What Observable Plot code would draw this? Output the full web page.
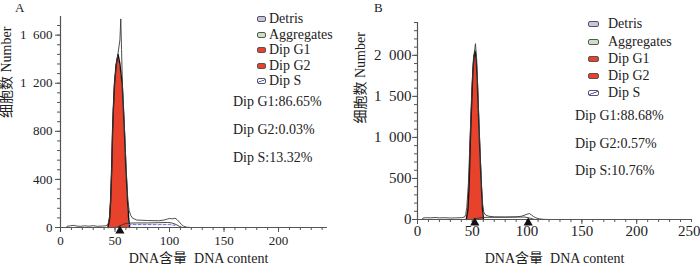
<!DOCTYPE html>
<html><head><meta charset="utf-8">
<script src="https://cdn.jsdelivr.net/npm/d3@7"></script>
<script src="https://cdn.jsdelivr.net/npm/@observablehq/plot@0.6"></script>
<style>
html,body{margin:0;padding:0;background:#fff;}
#wrap{position:relative;width:700px;height:264px;overflow:hidden;font-family:"Liberation Serif","Noto Sans CJK SC",serif;color:#222;}
#charts{display:flex;}
.lab{position:absolute;font-size:14px;line-height:16px;white-space:nowrap;}
.sw{position:absolute;border:1px solid #555;border-radius:2px;box-sizing:border-box;}
.panel{position:absolute;font-size:13px;line-height:14px;}
</style></head>
<body><div id="wrap"><div id="charts"></div></div>
<script>
// ---------- data ----------
const panelLabels = ["A", "B"];
const legendNames = ["Detris", "Aggregates", "Dip G1", "Dip G2", "Dip S"];
const legendFills = ["#cbc3e3", "#c9e3c2", "#e8412c", "#e8412c", "#ffffff"];
const statsA = ["Dip G1:86.65%", "Dip G2:0.03%", "Dip S:13.32%"];
const statsB = ["Dip G1:88.68%", "Dip G2:0.57%", "Dip S:10.76%"];
const xLabel = "DNA含量  DNA content";
const yLabel = "细胞数 Number";

// Panel A: raw histogram (thin line)
const aRawX = [5,6,9,12,15,18,22,26,30,34,38,41,43,44,45,46,47,47.7,48.5,49.5,51,52.8,54.5,55.3,56,56.8,57.8,58.9,60.3,61.8,63,64.5,66,70,80,90,95,98,100,103,105,107,109,111,113,116,120,244];
const aRawY = [0,10,14,18,12,10,14,11,15,10,12,14,20,40,90,224,500,780,990,1190,1340,1450,1560,1735,1480,1190,990,780,480,224,140,100,78,62,58,56,62,70,75,72,78,65,45,25,10,2,0,0];
// Panel A: G1 fit (red)
const aG1X = [43.5,45,46,47,47.7,48.5,49.5,51,52.8,54.5,56.6,57.7,58.7,60,61.5,62.5,63.5];
const aG1Y = [0,70,224,500,780,990,1190,1350,1440,1360,1190,990,780,480,224,80,0];
// Panel A: S-phase fit (solid) and S hatch top (dashed)
const aSX = [51,54,57,61,70,80,90,98,102,106,109,112];
const aSY = [0,12,25,36,38,38,40,42,38,25,10,0];
const aSdX = [62,70,80,90,100,105];
const aSdY = [24,24,24,24,24,18];
const aMarks = [54.5];

// Panel B
const bRawX = [4.3,5,8,12,16,20,25,30,35,40,43,44,45,46.5,48,49.5,51,52.9,54,55,56.3,57.5,58.5,59.5,60.5,62,65,70,80,90,95,98,100,102,104,106,108,111,115,120,250];
const bRawY = [0,18,22,20,24,20,22,18,20,22,30,60,150,450,1000,1550,1950,2142,1950,1600,1100,700,380,180,90,55,40,32,30,32,40,55,65,72,55,35,20,8,2,0,0];
const bG1X = [44.5,46,47,48.4,49.5,50.5,51.5,52.6,53.5,54.5,55.3,56.3,57.3,58.3,59.2,60.2];
const bG1Y = [0,120,400,1041,1450,1800,1980,2050,1960,1700,1400,1041,700,400,150,0];
const bSX = [50,55,60,70,80,90,98,103,107];
const bSY = [0,15,26,27,28,30,30,15,0];
const bMarks = [52.3, 101];

// ticks
const aXMajor = [0,50,100,150,200];
const aYMajor = [0,400,800,1200,1600];
const bXMajor = [0,50,100,150,200,250];
const bYMajor = [0,500,1000,1500,2000];

// ---------- helpers ----------
const zip = (xs, ys) => xs.map((x, i) => ({x, y: ys[i]}));
const fmt = d => d >= 1000 ? Math.floor(d/1000) + "\u2002" + String(d % 1000).padStart(3, "0") : String(d);
const AX = "#555";
const RED = "#e8412c";
const FONT = "Liberation Serif, Noto Sans CJK SC, serif";

function panel(o) {
  const inner = o.xMajor.filter(d => d < o.xd[1]);
  const edge = o.xMajor.filter(d => d >= o.xd[1]);
  return Plot.plot({
    width: 350, height: 264,
    marginLeft: o.ml, marginRight: o.mr, marginTop: o.mt, marginBottom: o.mb,
    x: {domain: o.xd},
    y: {domain: o.yd},
    style: {fontFamily: FONT, fontSize: o.tickFont + "px", color: "#222", background: "white", overflow: "visible"},
    marks: [
      Plot.areaY(o.g1, {x: "x", y: "y", fill: RED}),
      Plot.lineY(o.g1, {x: "x", y: "y", stroke: "#111", strokeWidth: 1.4}),
      o.sd ? Plot.lineY(o.sd, {x: "x", y: "y", stroke: "#6a6ad6", strokeWidth: 1, strokeDasharray: "3,2"}) : null,
      Plot.lineY(o.s, {x: "x", y: "y", stroke: "#333", strokeWidth: 0.9}),
      Plot.lineY(o.raw, {x: "x", y: "y", stroke: "#3a3a3a", strokeWidth: 0.9}),
      Plot.ruleY([0], {stroke: AX, strokeWidth: 1.2}),
      Plot.ruleX([0], {stroke: AX, strokeWidth: 1.2}),
      Plot.axisX(d3.range(o.xd[0], o.xd[1] + 0.1, 10), {tickSize: 3, tickFormat: () => "", stroke: AX, label: null}),
      Plot.axisX(inner, {tickSize: 5, tickPadding: o.xPad, stroke: AX, label: null, fontSize: o.tickFont}),
      edge.length ? Plot.axisX(edge, {tickSize: 5, tickPadding: o.xPad, stroke: AX, label: null, fontSize: o.tickFont, textAnchor: "end", dx: 9}) : null,
      Plot.axisY(d3.range(0, o.yd[1] + 1, o.yMinor), {tickSize: 3, tickFormat: () => "", stroke: AX, label: null}),
      Plot.axisY(o.yMajor, {tickSize: 5, tickPadding: o.yPad, stroke: AX, label: null, tickFormat: fmt, fontSize: o.tickFont}),
      Plot.text([xLabel], {frameAnchor: "bottom", dy: o.xLabOff, dx: o.xLabDx, lineAnchor: "bottom", fontSize: 14, fill: "#222"}),
      Plot.text([yLabel], {frameAnchor: "left", rotate: -90, dx: -o.yLabOff, dy: o.yLabDy, lineAnchor: "top", fontSize: 14, fill: "#222"}),
      Plot.dot(o.marksAt, {x: d => d, y: () => 0, symbol: "triangle", r: 3.4, fill: "#111", dy: 3.3})
    ]
  });
}

const chartA = panel({
  ml: 60, mr: 24, mt: 16, mb: 37, xd: [0, 244], yd: [0, 1755], tickFont: 13,
  raw: zip(aRawX, aRawY), g1: zip(aG1X, aG1Y), s: zip(aSX, aSY), sd: zip(aSdX, aSdY),
  xMajor: aXMajor, yMajor: aYMajor, yMinor: 80, xPad: 3, yPad: 3,
  xLabOff: 35, xLabDx: 5, yLabOff: 59, yLabDy: -4, marksAt: aMarks
});
const chartB = panel({
  ml: 67, mr: 9, mt: 22, mb: 45, xd: [0, 250], yd: [0, 2400], tickFont: 15,
  raw: zip(bRawX, bRawY), g1: zip(bG1X, bG1Y), s: zip(bSX, bSY), sd: null,
  xMajor: bXMajor, yMajor: bYMajor, yMinor: 100, xPad: 1, yPad: 1,
  xLabOff: 43, xLabDx: 0, yLabOff: 62, yLabDy: 2.5, marksAt: bMarks
});
const charts = document.getElementById("charts");
charts.append(chartA, chartB);

// ---------- legends / annotations (HTML overlay) ----------
const wrap = document.getElementById("wrap");
function addText(txt, left, cy, cls) {
  const d = document.createElement("div");
  d.className = cls; d.textContent = txt;
  d.style.left = left + "px"; d.style.top = (cy - 8) + "px";
  wrap.append(d);
}
function addLegend(x0, tx, rows, sw, swH) {
  legendNames.forEach((n, i) => {
    const s = document.createElement("div");
    s.className = "sw";
    s.style.left = x0 + "px"; s.style.top = (rows[i] - swH / 2) + "px";
    s.style.width = sw + "px"; s.style.height = swH + "px";
    s.style.background = legendFills[i];
    if (n === "Dip S") s.style.background = "linear-gradient(160deg,#fff 40%,#5a5ad0 45%,#5a5ad0 55%,#fff 60%)";
    wrap.append(s);
    addText(n, tx, rows[i], "lab");
  });
}
addLegend(257, 269, [19, 34.5, 50, 65.5, 81], 9, 6);
statsA.forEach((t, i) => addText(t, 233, [102, 130, 158][i], "lab"));
addLegend(588, 608, [24, 41.5, 58.5, 76, 93], 11, 6);
statsB.forEach((t, i) => addText(t, 575, [116, 143.5, 171][i], "lab"));
[[panelLabels[0], 15, 1], [panelLabels[1], 374, 1]].forEach(([t, x, y]) => {
  const d = document.createElement("div");
  d.className = "panel"; d.textContent = t;
  d.style.left = x + "px"; d.style.top = y + "px";
  wrap.append(d);
});
</script></body></html>
